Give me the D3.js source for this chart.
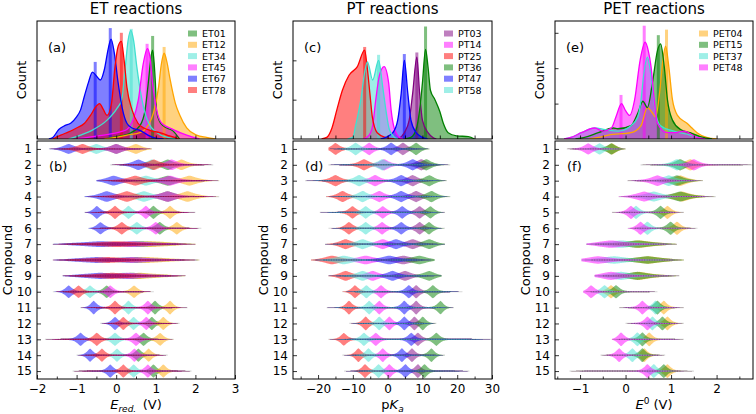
<!DOCTYPE html>
<html>
<head>
<meta charset="utf-8">
<script src="https://cdn.jsdelivr.net/npm/d3@7"></script>
<style>
body { margin: 0; background: #fff; }
text { font-family: "DejaVu Sans", sans-serif; fill: #000; }
</style>
</head>
<body>
<div id="chart"></div>
<script>
// ---- ET reactions ----
var etNames = ["ET01", "ET12", "ET34", "ET45", "ET67", "ET78"];
var etColors = ["#008000", "#ffa500", "#40e0d0", "#ff00ff", "#0000ff", "#ff0000"];

// kde curves: [E, count]
var et01Kde = [[-0.3,0],[0.0,3],[0.37,8],[0.6,17],[0.73,37],[0.81,71],[0.88,105],[0.92,113],[0.96,95],[0.99,71],[1.02,35],[1.1,22],[1.18,17],[1.44,10],[1.6,0]];
var et12Kde = [[-0.3,0],[0.0,2],[0.27,5],[0.6,8],[0.8,17],[0.94,33],[1.07,66],[1.14,95],[1.21,109],[1.28,98],[1.36,76],[1.49,46],[1.61,30],[1.78,14],[2.03,5],[2.28,2],[2.5,0]];
var et34Kde = [[-1.2,0],[-0.9,5],[-0.58,12],[-0.23,24],[0.02,39],[0.14,50],[0.23,92],[0.3,125],[0.37,138],[0.44,125],[0.52,92],[0.65,50],[0.82,20],[1.03,8],[1.3,2],[1.5,0]];
var et45Kde = [[-1.0,0],[-0.6,3],[-0.2,6],[0.1,9],[0.27,12],[0.43,25],[0.56,50],[0.68,95],[0.79,115],[0.85,105],[0.92,71],[1.02,37],[1.15,20],[1.44,12],[1.78,5],[2.1,0]];
var et67Kde = [[-1.7,0],[-1.6,2],[-1.45,12],[-1.3,17],[-1.15,20],[-1.0,28],[-0.9,37],[-0.8,55],[-0.7,72],[-0.6,85],[-0.5,80],[-0.4,75],[-0.3,88],[-0.2,115],[-0.13,127],[-0.05,110],[0.05,71],[0.15,40],[0.27,20],[0.4,14],[0.6,11],[0.8,5],[1.0,1],[1.2,0]];
var et78Kde = [[-1.6,0],[-1.4,5],[-1.2,9],[-1.0,14],[-0.8,20],[-0.65,30],[-0.5,42],[-0.42,45],[-0.33,38],[-0.23,30],[-0.12,45],[-0.03,92],[0.05,118],[0.13,124],[0.2,100],[0.27,66],[0.4,37],[0.55,20],[0.7,14],[0.85,11],[1.1,8],[1.35,4],[1.6,0]];
// tallest histogram bins sticking out above the kde: [E, count, series]
var etSpikes = [[-0.15,141,4],[-0.53,98,4],[0.13,135,5],[0.92,131,0],[0.78,121,3],[1.21,117,1],[0.38,140,2]];

// violin centres per compound 1..15, panel (b)
var et01Mu = [0.0, 1.3, 1.3, 1.3, 0.94, 1.1, 0.6, 0.5, 0.4, -0.24, 0.98, 0.9, 0.69, 0.56, 0.94];
var et12Mu = [0.5, 1.65, 1.85, 1.8, 1.36, 1.53, 0.9, 0.8, 0.6, 0.45, 1.36, 1.19, 1.11, 0.82, 1.19];
var et34Mu = [-0.5, 0.9, 0.75, 0.7, 0.31, 0.52, 0.4, 0.3, 0.2, -0.66, 0.31, 0.44, -0.03, 0.02, 0.44];
var et45Mu = [0.0, 1.4, 1.36, 1.3, 0.75, 1.0, 0.4, 0.4, 0.3, -0.15, 0.8, 0.76, 0.5, 0.46, 0.8];
var et67Mu = [-1.2, 0.56, -0.07, -0.24, -0.49, -0.4, -0.4, -0.5, -0.4, -1.2, -0.57, -0.03, -0.9, -0.66, -0.15];
var et78Mu = [-0.85, 0.95, 0.48, 0.27, -0.03, 0.14, 0.0, -0.2, -0.1, -0.95, -0.03, 0.18, -0.49, -0.36, 0.18];
var etSpread = [0.2, 0.2, 0.26, 0.26, 0.12, 0.13, 0.65, 0.65, 0.6, 0.12, 0.11, 0.11, 0.12, 0.11, 0.11];
var etPeak = [0.28, 0.3, 0.28, 0.3, 0.38, 0.36, 0.15, 0.15, 0.16, 0.36, 0.4, 0.38, 0.38, 0.38, 0.38];
var etLo = [-1.7, -0.15, -0.5, -0.8, -0.8, -0.7, -1.6, -1.6, -1.35, -1.6, -0.9, -0.4, -1.8, -1.0, -1.1];
var etHi = [0.9, 2.45, 2.6, 2.6, 2.0, 2.15, 2.0, 2.1, 1.75, 0.95, 1.8, 1.6, 1.45, 1.3, 1.9];
var etTicks = [-2, -1, 0, 1, 2, 3];

// ---- PT reactions ----
var ptNames = ["PT03", "PT14", "PT25", "PT36", "PT47", "PT58"];
var ptColors = ["#800080", "#ff00ff", "#ff0000", "#008000", "#0000ff", "#40e0d0"];

var pt03Kde = [[3,0],[4.8,8],[6.2,24],[7.2,58],[8.4,104],[9.2,58],[10,24],[11.6,8],[13,2],[14,0]];
var pt14Kde = [[-7,0],[-5.3,5],[-4.3,17],[-3.4,50],[-2.4,80],[-1,92],[0.3,71],[1,37],[2,12],[3.4,2],[4.5,0]];
var pt25Kde = [[-19,0],[-17.5,2],[-16,14],[-14.6,37],[-13,62],[-11.1,81],[-8.7,92],[-6.6,113],[-5.9,92],[-5.1,58],[-4.4,28],[-3,8],[-0.6,2],[2,0]];
var pt36Kde = [[5,0],[6.7,2],[8.2,12],[9.2,37],[10,71],[10.9,114],[11.6,92],[12.3,62],[13.6,50],[15,35],[16,20],[17.4,8],[19.8,4],[23.2,3],[25,0]];
var pt47Kde = [[-2,0],[-0.5,2],[1.5,8],[2.9,24],[3.9,58],[4.8,100],[5.8,58],[6.7,24],[8.2,8],[10,2],[11.5,0]];
var pt58Kde = [[-11.5,0],[-10,2],[-9.2,17],[-7.7,50],[-6.6,85],[-5.8,98],[-4.3,75],[-2.6,100],[-1.4,66],[-0.5,37],[0.5,12],[2,2],[3,0]];
var ptSpikes = [[10.9,143,3],[8.4,110,0],[4.8,108,4],[-6.6,117,2],[-2.6,107,5]];

var pt03Mu = [4.4, 9.7, 7.2, 8.2, 9.2, 9.2, 7.2, 4.5, 5.0, 8.2, 8.2, 7.7, 8.7, 7.0, 8.7];
var pt14Mu = [-5.3, -1.0, -3.6, -2.4, -1.4, -1.6, -1.4, -6.3, -4.3, -1.9, -2.4, 0.5, -3.4, -1.4, 0.5];
var pt25Mu = [-15, -6.8, -15, -13, -10.1, -11.1, -12.1, -16, -12.1, -9.4, -11.1, -6.3, -12.6, -8.4, -6.5];
var pt36Mu = [8.2, 11.1, 12, 12.6, 12.3, 11.9, 12, 9.2, 12, 13, 15.2, 10.1, 14, 12.6, 10.6];
var pt47Mu = [1.0, 7.2, 3.9, 3.9, 4.2, 3.9, 2.4, 0.5, 1.4, 6.1, 4.8, 4.8, 6.8, 4.1, 5.1];
var pt58Mu = [-9.2, -1.5, -8.2, -7.2, -6.3, -6.3, -7.2, -12.6, -7.2, -6.1, -5.3, -2.4, -6.8, -5.5, -2.6];
var ptSpread = [1.6, 2.0, 2.0, 2.0, 1.5, 1.5, 2.4, 3.3, 2.4, 1.35, 1.25, 1.25, 1.35, 1.25, 1.25];
var ptPeak = [0.36, 0.32, 0.32, 0.32, 0.36, 0.36, 0.28, 0.24, 0.28, 0.38, 0.4, 0.4, 0.38, 0.4, 0.4];
var ptLo = [-17, -17, -23.7, -17.7, -19.5, -17, -18, -22, -17, -13, -17.5, -11, -17, -13, -12.5];
var ptHi = [12, 18, 17, 18, 16.5, 16.5, 16.5, 13.5, 15.5, 21.5, 19, 14, 30, 16.5, 23.5];
var ptTicks = [-20, -10, 0, 10, 20, 30];

// ---- PET reactions ----
var petNames = ["PET04", "PET15", "PET37", "PET48"];
var petColors = ["#ffa500", "#008000", "#40e0d0", "#ff00ff"];

var pet04Kde = [[-0.8,0],[-0.6,2],[-0.38,5],[0.12,8],[0.34,17],[0.48,40],[0.58,34],[0.66,28],[0.75,60],[0.82,100],[0.88,118],[0.95,92],[1.03,50],[1.14,30],[1.35,20],[1.46,14],[1.57,8],[1.78,2],[2.0,0]];
var pet15Kde = [[-1.1,0],[-0.9,2],[-0.6,8],[-0.27,14],[-0.17,13],[0.12,17],[0.27,33],[0.38,48],[0.48,40],[0.6,75],[0.7,112],[0.77,121],[0.85,92],[0.92,50],[1.03,24],[1.21,12],[1.42,8],[1.64,3],[1.9,0]];
var pet37Kde = [[-1.35,0],[-1.2,2],[-0.97,8],[-0.68,14],[-0.45,12],[-0.17,10],[0.12,17],[0.27,28],[0.34,50],[0.4,82],[0.48,104],[0.53,92],[0.59,66],[0.66,33],[0.77,17],[1.06,10],[1.42,5],[1.7,0]];
var pet48Kde = [[-1.35,0],[-1.2,2],[-0.97,8],[-0.68,14],[-0.49,10],[-0.31,14],[-0.2,30],[-0.09,45],[0.0,36],[0.09,30],[0.2,50],[0.32,100],[0.43,123],[0.5,112],[0.56,92],[0.63,50],[0.7,20],[0.92,8],[1.1,8],[1.28,10],[1.57,2],[1.75,0]];
var petSpikes = [[0.41,144,3],[0.9,139,0],[0.72,132,1],[-0.1,56,3]];

var pet04Mu = [-0.3, 1.42, 1.2, 1.24, 0.92, 1.13, 0.3, 0.5, 0.3, -0.32, 0.84, 0.92, 0.52, 0.41, 0.92];
var pet15Mu = [-0.31, 1.2, 1.13, 1.2, 0.77, 0.99, 0.26, 0.48, 0.26, -0.21, 0.7, 0.81, 0.37, 0.37, 0.84];
var pet37Mu = [-0.57, 1.13, 0.95, 0.62, 0.23, 0.48, -0.1, -0.25, -0.1, -0.46, 0.66, 0.59, 0.26, 0.15, 0.62];
var pet48Mu = [-0.82, 1.5, 0.7, 0.41, 0.12, 0.33, -0.32, -0.61, -0.32, -0.76, 0.37, 0.48, -0.1, -0.14, 0.48];
var petSpread = [0.13, 0.16, 0.2, 0.24, 0.11, 0.11, 0.4, 0.4, 0.34, 0.11, 0.1, 0.1, 0.1, 0.1, 0.1];
var petPeak = [0.32, 0.32, 0.3, 0.28, 0.38, 0.38, 0.2, 0.2, 0.22, 0.38, 0.4, 0.4, 0.4, 0.4, 0.4];
var petLo = [-1.29, 0.33, 0.04, -0.15, -0.3, 0.05, -0.86, -0.97, -0.68, -0.93, -0.14, 0.0, -0.3, -0.55, -1.23];
var petHi = [0.0, 2.8, 1.7, 1.98, 1.28, 1.58, 1.13, 1.28, 1.18, 0.7, 1.28, 1.28, 1.28, 0.87, 1.5];
var petTicks = [-1, 0, 1, 2];

var compounds = d3.range(1, 16);

var panels = [
	{ title: "ET reactions", names: etNames, colors: etColors,
	  kde: [et01Kde, et12Kde, et34Kde, et45Kde, et67Kde, et78Kde], spikes: etSpikes,
	  mu: [et01Mu, et12Mu, et34Mu, et45Mu, et67Mu, et78Mu],
	  spread: etSpread, peak: etPeak, lo: etLo, hi: etHi,
	  domain: [-2, 3], ticks: etTicks, minor: 0.5, countTicks: [50, 100],
	  x0: 37, x1: 235, tags: ["(a)", "(b)"], legX: 188, xlab: "et" },
	{ title: "PT reactions", names: ptNames, colors: ptColors,
	  kde: [pt03Kde, pt14Kde, pt25Kde, pt36Kde, pt47Kde, pt58Kde], spikes: ptSpikes,
	  mu: [pt03Mu, pt14Mu, pt25Mu, pt36Mu, pt47Mu, pt58Mu],
	  spread: ptSpread, peak: ptPeak, lo: ptLo, hi: ptHi,
	  domain: [-27.2, 30], ticks: ptTicks, minor: 5, countTicks: [50, 100],
	  x0: 293, x1: 492, tags: ["(c)", "(d)"], legX: 444, xlab: "pt" },
	{ title: "PET reactions", names: petNames, colors: petColors,
	  kde: [pet04Kde, pet15Kde, pet37Kde, pet48Kde], spikes: petSpikes,
	  mu: [pet04Mu, pet15Mu, pet37Mu, pet48Mu],
	  spread: petSpread, peak: petPeak, lo: petLo, hi: petHi,
	  domain: [-1.55, 2.8], ticks: petTicks, minor: 0.5, countTicks: [45, 90, 135],
	  x0: 555, x1: 753, tags: ["(e)", "(f)"], legX: 699, xlab: "pet" }
];

var W = 756, H = 414;
var histTop = 21, histBot = 139, vioTop = 141, vioBot = 379;

var svg = d3.select("#chart").append("svg")
	.attr("width", W).attr("height", H);

var y = d3.scaleLinear().domain([0.5, 15.5]).range([vioTop, vioBot]);
var rowStep = y(2) - y(1);
var yc = d3.scaleLinear().domain([0, 150]).range([histBot, histTop]);

panels.forEach(function(p, pi) {
	var x = d3.scaleLinear().domain(p.domain).range([p.x0, p.x1]);
	var g = svg.append("g");
	var minorTicks = d3.range(Math.ceil(p.domain[0] / p.minor) * p.minor, p.domain[1] + 1e-9, p.minor);

	// clip paths for both parts
	g.append("clipPath").attr("id", "ch" + pi).append("rect")
		.attr("x", p.x0).attr("y", histTop).attr("width", p.x1 - p.x0).attr("height", histBot - histTop);
	g.append("clipPath").attr("id", "cv" + pi).append("rect")
		.attr("x", p.x0).attr("y", vioTop).attr("width", p.x1 - p.x0).attr("height", vioBot - vioTop);

	// ---- histogram + kde ----
	var area = d3.area().curve(d3.curveMonotoneX)
		.x(function(d) { return x(d[0]); })
		.y0(histBot).y1(function(d) { return yc(d[1]); });
	var line = d3.line().curve(d3.curveMonotoneX)
		.x(function(d) { return x(d[0]); })
		.y(function(d) { return yc(d[1]); });
	var hg = g.append("g").attr("clip-path", "url(#ch" + pi + ")");
	p.kde.forEach(function(k, i) {
		hg.append("path").attr("d", area(k))
			.attr("fill", p.colors[i]).attr("fill-opacity", 0.5);
	});
	hg.selectAll("rect.spike").data(p.spikes).enter().append("rect")
		.attr("class", "spike")
		.attr("x", function(d) { return x(d[0]) - 1.5; })
		.attr("width", 3)
		.attr("y", function(d) { return yc(d[1]); })
		.attr("height", function(d) { return histBot - yc(d[1]); })
		.attr("fill", function(d) { return p.colors[d[2]]; })
		.attr("fill-opacity", 0.5);
	p.kde.forEach(function(k, i) {
		hg.append("path").attr("d", line(k))
			.attr("fill", "none").attr("stroke", p.colors[i]).attr("stroke-width", 1.3);
	});

	// ---- violins ----
	var vg = g.append("g").attr("clip-path", "url(#cv" + pi + ")");
	compounds.forEach(function(c, r) {
		var lo = p.lo[r], hi = p.hi[r], s = p.spread[r], pk = p.peak[r];
		vg.append("line")
			.attr("x1", x(lo)).attr("x2", x(hi)).attr("y1", y(c)).attr("y2", y(c))
			.attr("stroke", "#bbb").attr("stroke-width", 1.2).attr("stroke-opacity", 0.6);
		p.mu.forEach(function(mu, i) {
			var m = mu[r];
			var xs = d3.range(0, 241).map(function(j) { return lo + (hi - lo) * j / 240; });
			if (m > lo && m < hi) xs.push(m);
			xs.sort(d3.ascending);
			// pointed violin outline: peak at the centre, thin tail out to the row range
			var half = function(v) {
				var edge = Math.min(1, (v - lo) / (0.15 * (hi - lo)), (hi - v) / (0.15 * (hi - lo)));
				return (pk * Math.exp(-Math.pow(Math.abs(v - m) / s, 1.4)) + 0.035 * Math.max(0, edge)) * rowStep;
			};
			var va = d3.area()
				.x(function(v) { return x(v); })
				.y0(function(v) { return y(c) - half(v); })
				.y1(function(v) { return y(c) + half(v); });
			vg.append("path").attr("d", va(xs))
				.attr("fill", p.colors[i]).attr("fill-opacity", 0.5);
		});
		vg.append("line")
			.attr("x1", x(lo + 0.1 * (hi - lo))).attr("x2", x(hi - 0.1 * (hi - lo)))
			.attr("y1", y(c)).attr("y2", y(c))
			.attr("stroke", "#222").attr("stroke-width", 0.7)
			.attr("stroke-dasharray", "1,1.5").attr("stroke-opacity", 0.55);
	});

	// ---- axes ----
	var hax = g.append("g").attr("transform", "translate(0," + histBot + ")")
		.call(d3.axisBottom(x).tickValues(minorTicks).tickSizeInner(-3.5).tickSizeOuter(0).tickFormat(""));
	hax.select(".domain").remove();
	var hay = g.append("g").attr("transform", "translate(" + p.x0 + ",0)")
		.call(d3.axisLeft(yc).tickValues(p.countTicks).tickSizeInner(-3.5).tickSizeOuter(0).tickFormat(""));
	hay.select(".domain").remove();

	var vmin = g.append("g").attr("transform", "translate(0," + vioBot + ")")
		.call(d3.axisBottom(x).tickValues(minorTicks.filter(function(t) { return p.ticks.indexOf(t) < 0; }))
			.tickSizeInner(-2.5).tickSizeOuter(0).tickFormat(""));
	vmin.select(".domain").remove();
	var vax = g.append("g").attr("transform", "translate(0," + vioBot + ")")
		.call(d3.axisBottom(x).tickValues(p.ticks).tickSizeInner(-4).tickSizeOuter(0).tickPadding(5)
			.tickFormat(function(d) { return d < 0 ? "\u2212" + Math.abs(d) : d; }));
	vax.select(".domain").remove();
	vax.selectAll("text").attr("font-size", 12).attr("font-family", "DejaVu Sans");
	var vay = g.append("g").attr("transform", "translate(" + p.x0 + ",0)")
		.call(d3.axisLeft(y).tickValues(compounds).tickSizeInner(-4).tickSizeOuter(0).tickPadding(5));
	vay.select(".domain").remove();
	vay.selectAll("text").attr("font-size", 12).attr("font-family", "DejaVu Sans");
	g.selectAll(".tick line").attr("stroke", "#000").attr("stroke-width", 0.8);

	// frames
	g.append("rect").attr("x", p.x0).attr("y", histTop).attr("width", p.x1 - p.x0).attr("height", histBot - histTop)
		.attr("fill", "none").attr("stroke", "#000").attr("stroke-width", 1);
	g.append("rect").attr("x", p.x0).attr("y", vioTop).attr("width", p.x1 - p.x0).attr("height", vioBot - vioTop)
		.attr("fill", "none").attr("stroke", "#000").attr("stroke-width", 1);

	// titles and labels
	g.append("text").attr("x", (p.x0 + p.x1) / 2).attr("y", 14).attr("text-anchor", "middle")
		.attr("font-size", 15).text(p.title);
	g.append("text").attr("x", p.x0 + 11).attr("y", 52).attr("font-size", 13).text(p.tags[0]);
	g.append("text").attr("x", p.x0 + 12).attr("y", 171).attr("font-size", 13).text(p.tags[1]);
	g.append("text").attr("transform", "translate(" + (p.x0 - 11) + "," + ((histTop + histBot) / 2) + ") rotate(-90)")
		.attr("text-anchor", "middle").attr("font-size", 13).text("Count");
	g.append("text").attr("transform", "translate(" + (p.x0 - 25) + "," + ((vioTop + vioBot) / 2) + ") rotate(-90)")
		.attr("text-anchor", "middle").attr("font-size", 13).text("Compound");

	var xl = g.append("text").attr("x", (p.x0 + p.x1) / 2).attr("y", 409)
		.attr("text-anchor", "middle").attr("font-size", 13);
	if (p.xlab == "et") {
		xl.append("tspan").attr("font-style", "italic").text("E");
		xl.append("tspan").attr("font-style", "italic").attr("font-size", 9).attr("dy", 3).text("red.");
		xl.append("tspan").attr("dy", -3).text("\u2002(V)");
	} else if (p.xlab == "pt") {
		xl.append("tspan").text("p");
		xl.append("tspan").attr("font-style", "italic").text("K");
		xl.append("tspan").attr("font-style", "italic").attr("font-size", 9).attr("dy", 3).text("a");
	} else {
		xl.append("tspan").attr("font-style", "italic").text("E");
		xl.append("tspan").attr("font-size", 9).attr("dy", -5).text("0");
		xl.append("tspan").attr("dy", 5).text(" (V)");
	}

	// legend
	p.names.forEach(function(n, i) {
		var ly = 33.5 + i * 11.3;
		g.append("rect").attr("x", p.legX).attr("y", ly - 3).attr("width", 9).attr("height", 6)
			.attr("fill", p.colors[i]).attr("fill-opacity", 0.5);
		g.append("text").attr("x", p.legX + 14).attr("y", ly + 3.5).attr("font-size", 9.5).text(n);
	});
});
</script>
</body>
</html>
